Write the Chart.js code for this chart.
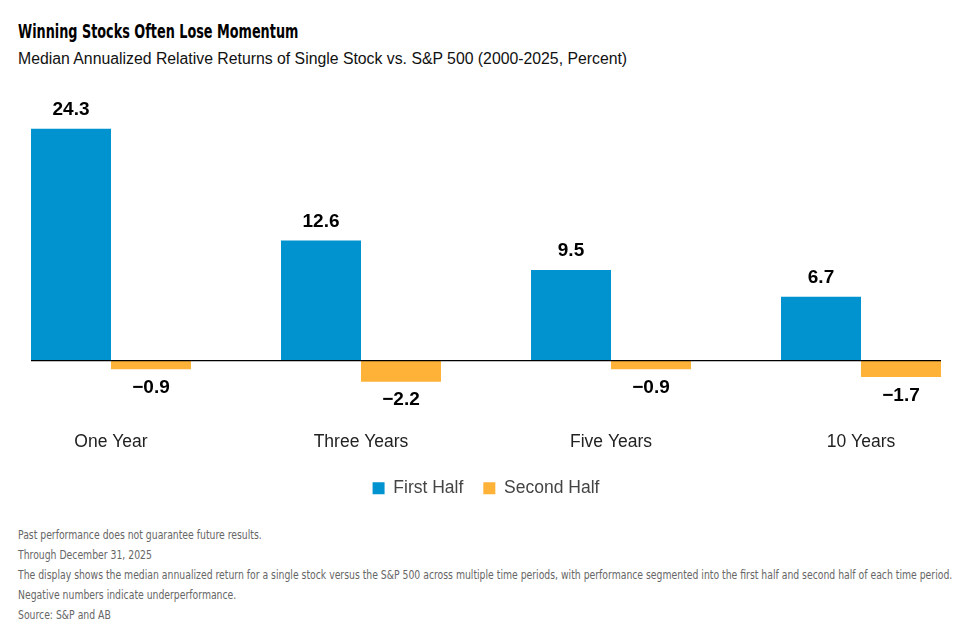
<!DOCTYPE html>
<html>
<head>
<meta charset="utf-8">
<script src="https://cdn.jsdelivr.net/npm/chart.js@4.4.1/dist/chart.umd.min.js"></script>
<style>
  body { margin: 0; background: #fff; width: 965px; height: 635px; overflow: hidden; position: relative; font-family: "Liberation Sans", Arial, sans-serif; }
  #title { position: absolute; left: 18px; top: 20px; font: bold 19px "DejaVu Sans Condensed", sans-serif; color: #000; white-space: nowrap; transform: scaleX(0.75); transform-origin: left top; }
  #subtitle { position: absolute; left: 18px; top: 50px; font: 15.8px "Liberation Sans", sans-serif; color: #111; white-space: nowrap; }
  #wrap { position: absolute; left: 0; top: 80px; width: 965px; height: 427px; }
  #notes { position: absolute; left: 18px; top: 527px; font: 12px "DejaVu Sans Condensed", sans-serif; color: #666; white-space: nowrap; transform: scaleX(0.86); transform-origin: left top; }
  #notes div { height: 20px; line-height: 16px; }
</style>
</head>
<body>
<div id="title">Winning Stocks Often Lose Momentum</div>
<div id="subtitle">Median Annualized Relative Returns of Single Stock vs. S&amp;P 500 (2000-2025, Percent)</div>
<div id="wrap"><canvas id="c"></canvas></div>
<div id="notes">
  <div>Past performance does not guarantee future results.</div>
  <div>Through December 31, 2025</div>
  <div>The display shows the median annualized return for a single stock versus the S&amp;P 500 across multiple time periods, with performance segmented into the first half and second half of each time period.</div>
  <div>Negative numbers indicate underperformance.</div>
  <div>Source: S&amp;P and AB</div>
</div>
<script>
const periods = ['One Year', 'Three Years', 'Five Years', '10 Years'];
const firstHalf = [24.3, 12.6, 9.5, 6.7];
const secondHalf = [-0.9, -2.2, -0.9, -1.7];

// value labels above / below each bar
const valueLabels = {
  id: 'valueLabels',
  afterDatasetsDraw(chart) {
    const ctx = chart.ctx;
    ctx.save();
    ctx.font = 'bold 19px "Liberation Sans", Arial, sans-serif';
    ctx.fillStyle = '#000';
    ctx.textAlign = 'center';
    ctx.textBaseline = 'middle';
    chart.data.datasets.forEach(function(ds, i) {
      chart.getDatasetMeta(i).data.forEach(function(bar, j) {
        const v = ds.data[j];
        const txt = v < 0 ? '\u2212' + Math.abs(v).toFixed(1) : v.toFixed(1);
        const y = v < 0 ? bar.y + 18.5 : bar.y - 19;
        ctx.fillText(txt, bar.x, y);
      });
    });
    ctx.restore();
  }
};

// zero line spanning the bars
const zeroLine = {
  id: 'zeroLine',
  afterDatasetsDraw(chart) {
    const ctx = chart.ctx;
    const first = chart.getDatasetMeta(0).data[0];
    const last = chart.getDatasetMeta(1).data[periods.length - 1];
    const y = chart.scales.y.getPixelForValue(0);
    ctx.save();
    ctx.strokeStyle = '#000';
    ctx.lineWidth = 1.2;
    ctx.beginPath();
    ctx.moveTo(first.x - first.width / 2, y);
    ctx.lineTo(last.x + last.width / 2, y);
    ctx.stroke();
    ctx.restore();
  }
};

new Chart(document.getElementById('c'), {
  type: 'bar',
  data: {
    labels: periods,
    datasets: [{
      label: 'First Half',
      data: firstHalf,
      backgroundColor: '#0093CF',
      categoryPercentage: 0.64,
      barPercentage: 1.0,
      clip: false
    }, {
      label: 'Second Half',
      data: secondHalf,
      backgroundColor: '#FFB238',
      categoryPercentage: 0.64,
      barPercentage: 1.0,
      clip: false
    }]
  },
  options: {
    responsive: true,
    maintainAspectRatio: false,
    animation: false,
    layout: { padding: { left: 111, right: 104, top: 23, bottom: 0 } },
    plugins: {
      title: { display: false },
      tooltip: { enabled: false },
      legend: {
        position: 'bottom',
        labels: {
          boxWidth: 12,
          boxHeight: 12,
          padding: 20,
          color: '#444',
          font: { size: 17.5, family: '"Liberation Sans", Arial, sans-serif' }
        }
      }
    },
    scales: {
      x: {
        offset: false,
        grid: { display: false, drawTicks: false },
        border: { display: false },
        afterFit: function(scale) { scale.height += 3; },
        ticks: {
          padding: 4,
          color: '#222',
          font: { size: 17.5, family: '"Liberation Sans", Arial, sans-serif' }
        }
      },
      y: {
        display: false,
        min: -7,
        max: 27
      }
    }
  },
  plugins: [zeroLine, valueLabels]
});
</script>
</body>
</html>
